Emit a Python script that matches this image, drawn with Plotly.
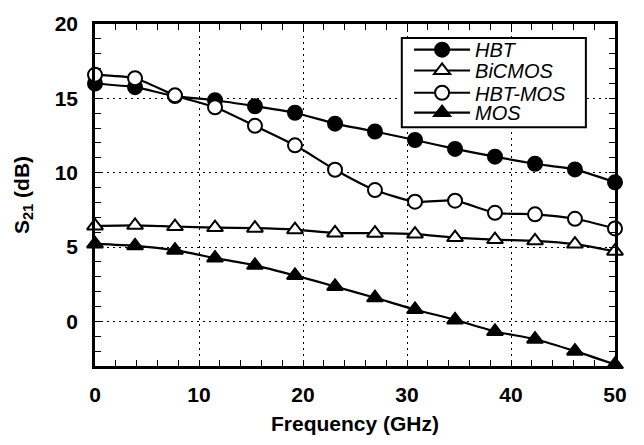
import plotly.graph_objects as go

freq = [0, 3.85, 7.69, 11.54, 15.38, 19.23, 23.08, 26.92, 30.77, 34.62, 38.46, 42.31, 46.15, 50]
hbt = [16.0, 15.75, 15.15, 14.87, 14.47, 14.03, 13.3, 12.77, 12.2, 11.6, 11.08, 10.6, 10.22, 9.35]
bicmos = [6.42, 6.46, 6.38, 6.31, 6.27, 6.17, 5.95, 5.93, 5.87, 5.64, 5.5, 5.42, 5.2, 4.72]
hbtmos = [16.58, 16.35, 15.2, 14.4, 13.15, 11.84, 10.2, 8.83, 8.05, 8.12, 7.3, 7.2, 6.9, 6.25]
mos = [5.21, 5.08, 4.79, 4.26, 3.77, 3.09, 2.35, 1.59, 0.8, 0.1, -0.68, -1.2, -2.0, -2.9]

series = [
    ("HBT", hbt, "circle", "black"),
    ("BiCMOS", bicmos, "triangle-up", "white"),
    ("HBT-MOS", hbtmos, "circle", "white"),
    ("MOS", mos, "triangle-up", "black"),
]
legend_ids = ["legend", "legend2", "legend3", "legend4"]
legend_y = [0.925, 0.864, 0.799, 0.741]

fig = go.Figure()
for (name, ys, sym, fill), lid in zip(series, legend_ids):
    fig.add_trace(go.Scatter(
        x=freq, y=ys, name=name, mode="lines+markers",
        line=dict(color="black", width=2.2, shape="spline", smoothing=0.6),
        marker=dict(symbol=sym, size=14, color=fill, line=dict(color="black", width=2)),
        cliponaxis=False, legend=lid,
    ))

font_main = "Liberation Sans, Arial, sans-serif"
axis_common = dict(
    showline=True, linecolor="black", linewidth=2.5, mirror="allticks",
    ticks="inside", ticklen=6, tickwidth=1.2, tickcolor="black",
    showgrid=True, gridcolor="black", gridwidth=1.3, griddash="2px,4px",
    zeroline=False,
    tickfont=dict(family=font_main, size=21, color="black", weight="bold"),
)

fig.update_xaxes(
    range=[0, 50], tick0=0, dtick=10,
    minor=dict(dtick=2, ticks="inside", ticklen=6, tickcolor="black", tickwidth=1.2, showgrid=False),
    title=dict(text="<b>Frequency (GHz)</b>", font=dict(family=font_main, size=21, color="black"), standoff=12),
    ticklabelstandoff=8,
    **axis_common,
)
fig.update_yaxes(
    range=[-3, 20], tick0=0, dtick=5,
    minor=dict(dtick=1, ticks="inside", ticklen=6, tickcolor="black", tickwidth=1.2, showgrid=False),
    title=dict(text="<b>S<sub>21</sub> (dB)</b>", font=dict(family=font_main, size=21, color="black"), standoff=20),
    ticklabelstandoff=10,
    **axis_common,
)

legend_style = dict(
    x=0.604, xanchor="left", yanchor="middle",
    bgcolor="rgba(0,0,0,0)", borderwidth=0,
    font=dict(family=font_main, size=20, color="black", style="italic"),
    itemwidth=56,
)
layout_legends = {lid: dict(y=ly, **legend_style) for lid, ly in zip(legend_ids, legend_y)}

fig.update_layout(
    width=644, height=445,
    margin=dict(l=95, r=29, t=12, b=69),
    paper_bgcolor="white", plot_bgcolor="white",
    showlegend=True,
    shapes=[dict(type="rect", xref="paper", yref="paper", x0=0.590, x1=0.944, y0=0.698, y1=0.959,
                 line=dict(color="black", width=2), fillcolor="white", layer="above")],
    **layout_legends,
)

fig.write_html("out.html")
